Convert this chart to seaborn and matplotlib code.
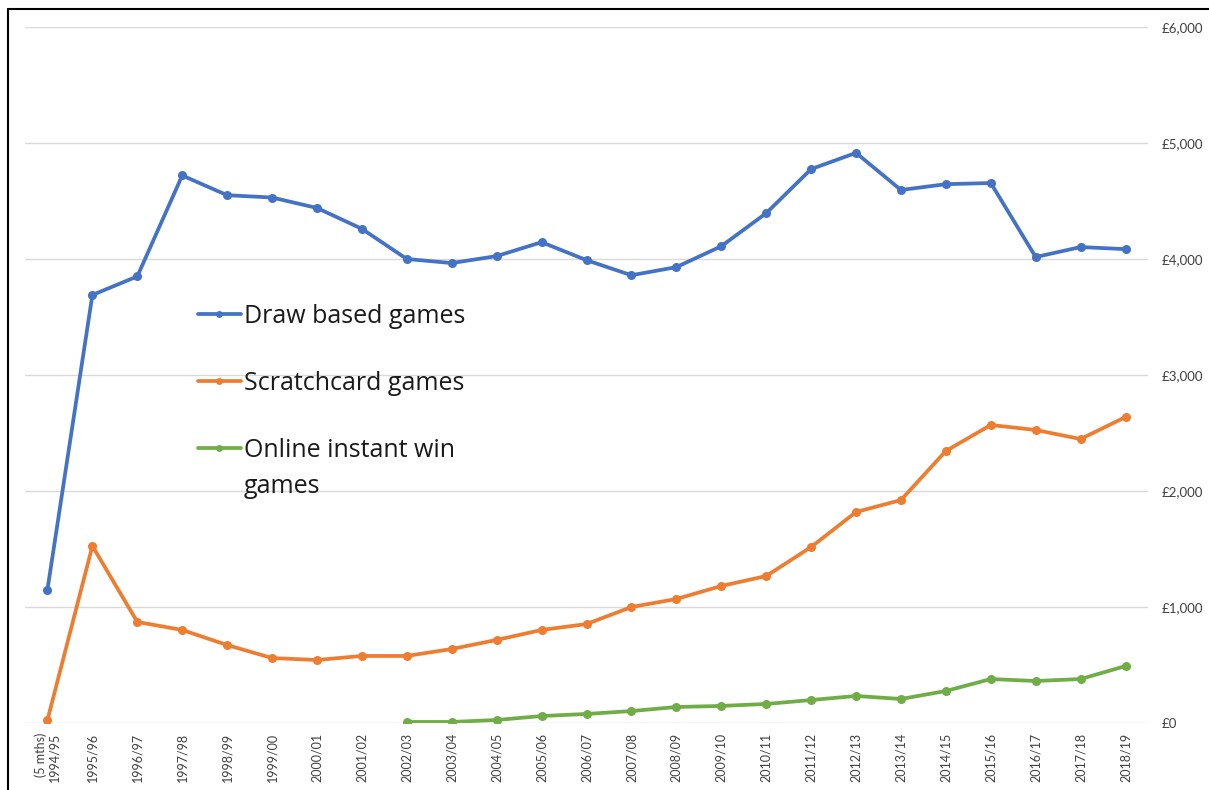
import numpy as np
import pandas as pd
import matplotlib
matplotlib.use("Agg")
import matplotlib.pyplot as plt
import seaborn as sns
from matplotlib.lines import Line2D

years = ["(5 mths)\n1994/95", "1995/96", "1996/97", "1997/98", "1998/99", "1999/00",
         "2000/01", "2001/02", "2002/03", "2003/04", "2004/05", "2005/06", "2006/07",
         "2007/08", "2008/09", "2009/10", "2010/11", "2011/12", "2012/13", "2013/14",
         "2014/15", "2015/16", "2016/17", "2017/18", "2018/19"]

draw_based = [1150, 3690, 3850, 4720, 4550, 4530, 4440, 4260, 4000, 3965, 4025, 4145,
              3990, 3860, 3930, 4110, 4395, 4775, 4915, 4595, 4645, 4655, 4017, 4103, 4085]
scratchcard = [26, 1526, 871, 802, 672, 560, 543, 578, 578, 638, 716, 802, 853, 1000,
               1069, 1181, 1267, 1517, 1819, 1922, 2345, 2569, 2526, 2448, 2638]
online = [np.nan] * 8 + [9, 9, 26, 60, 78, 103, 138, 147, 164, 198, 233, 207, 276, 379,
                         362, 379, 491]

series_names = ["Draw based games", "Scratchcard games", "Online instant win games"]
legend_labels = ["Draw based games", "Scratchcard games", "Online instant win"]
legend_wrap = "games"
colors = ["#4472C4", "#ED7D31", "#70AD47"]
yticks = [0, 1000, 2000, 3000, 4000, 5000, 6000]

rows = []
for name, vals in zip(series_names, [draw_based, scratchcard, online]):
    for i, v in enumerate(vals):
        rows.append({"idx": i, "value": v, "series": name})
df = pd.DataFrame(rows)

sns.set_theme(style="white")
plt.rcParams["font.family"] = ["Lato", "DejaVu Sans"]

fig = plt.figure(figsize=(12.09, 7.9), dpi=100)
ax = fig.add_axes([25 / 1209, 67 / 790, 1123 / 1209, 696 / 790])

sns.lineplot(data=df.dropna(), x="idx", y="value", hue="series", hue_order=series_names,
             palette=colors, marker="o", markersize=6.5, markeredgewidth=0,
             linewidth=2.7, ax=ax, legend=False)

ax.set_xlim(-0.5, len(years) - 0.5)
ax.set_ylim(0, 6000)
ax.set_xticks(range(len(years)))
ax.set_xticklabels(years, rotation=90, fontsize=9, color="#404040")
for lab in ax.get_xticklabels():
    lab.set_multialignment("right")
ax.set_yticks(yticks)
ax.set_yticklabels([f"£{v:,}" for v in yticks], fontsize=9.5, color="#404040")
ax.yaxis.tick_right()
ax.tick_params(axis="y", length=0, pad=10)
ax.tick_params(axis="x", length=0, pad=7)
for lab in ax.get_yticklabels():
    lab.set_horizontalalignment("left")
ax.set_xlabel("")
ax.set_ylabel("")
ax.grid(axis="y", color="#D9D9D9", linewidth=1)
ax.grid(axis="x", visible=False)
for s in ax.spines.values():
    s.set_visible(False)

handles = [Line2D([0], [0], color=c, linewidth=2.7, marker="o", markersize=5,
                  markeredgewidth=0) for c in colors]
leg = fig.legend(handles, legend_labels, loc="upper left",
                 bbox_to_anchor=(198 / 1209, (790 - 304) / 790), frameon=False,
                 prop={"family": ["Open Sans", "DejaVu Sans"], "size": 18},
                 handlelength=1.7, handletextpad=0.12, labelspacing=1.68,
                 borderpad=0, borderaxespad=0)
for t in leg.get_texts():
    t.set_color("#1a1a1a")

# wrapped second line of the last legend label
fig.canvas.draw()
bb = leg.get_texts()[2].get_window_extent()
fig.text(bb.x0 / 1209, (bb.y0 + (bb.y1 - bb.y0) / 2 - 36) / 790, legend_wrap,
         family=["Open Sans", "DejaVu Sans"], fontsize=18, color="#1a1a1a",
         ha="left", va="center")

# outer border (left and top)
fig.add_artist(Line2D([8 / 1209, 8 / 1209], [0, (790 - 9) / 790], color="black",
                      linewidth=1.5, transform=fig.transFigure))
fig.add_artist(Line2D([8 / 1209, 1], [(790 - 9) / 790, (790 - 9) / 790], color="black",
                      linewidth=1.5, transform=fig.transFigure))

fig.savefig("out.png", dpi=100)
